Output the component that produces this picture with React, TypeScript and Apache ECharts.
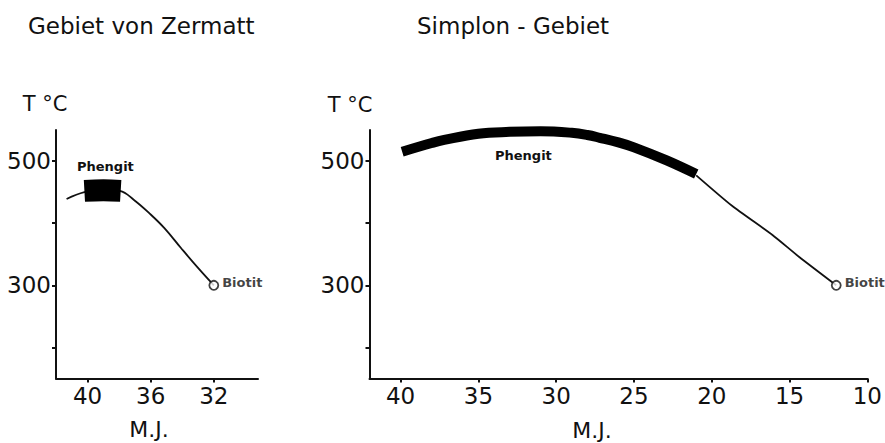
import React, { useEffect, useRef } from "react";
import * as echarts from "echarts";

// ---- data ----
const zermattCurve: [number, number][] = [
  [41.33, 439], [40.2, 450], [39, 454], [37.95, 452], [37.04, 437],
  [36.0, 414], [35.13, 392], [34.08, 360], [33.0, 328], [32, 300],
];
const zermattPhengit: [number, number][] = [[40.2, 452], [39, 453], [37.9, 452]];
const zermattBiotit: [number, number][] = [[32, 300]];

const simplonPhengit: [number, number][] = [
  [39.9, 515], [38, 529], [37.2, 534], [35, 544], [33, 547], [31, 548],
  [29, 545.5], [28, 542], [27.2, 537.5], [26, 530], [25, 522], [22.9, 501], [21, 479],
];
const simplonTail: [number, number][] = [
  [21, 477], [18.7, 428], [16.1, 381], [14.4, 346], [12, 300],
];
const simplonBiotit: [number, number][] = [[12, 300]];

const zermattXTicks = [40, 36, 32];
const simplonXTicks = [40, 35, 30, 25, 20, 15, 10];
const yTicks = [200, 300, 400, 500];
const yLabels = [300, 500];

const FONT = '"DejaVu Sans", sans-serif';
const INK = "#111";

function xAxisCfg(grid: number, min: number, max: number, ticks: number[]) {
  return {
    type: "value",
    gridIndex: grid,
    inverse: true,
    min,
    max,
    axisLine: { show: true, lineStyle: { color: INK, width: 2 } },
    axisTick: { show: true, customValues: ticks, length: 4, lineStyle: { color: INK, width: 2 } },
    axisLabel: { customValues: ticks, color: INK, fontFamily: FONT, fontSize: 23, margin: 6 },
    splitLine: { show: false },
  };
}

function yAxisCfg(grid: number) {
  return {
    type: "value",
    gridIndex: grid,
    min: 150,
    max: 550,
    axisLine: { show: true, lineStyle: { color: INK, width: 2 } },
    axisTick: { show: true, customValues: yTicks, length: 4, lineStyle: { color: INK, width: 2 } },
    axisLabel: { customValues: yLabels, color: INK, fontFamily: FONT, fontSize: 23, margin: 5 },
    splitLine: { show: false },
  };
}

function txt(text: string, x: number, y: number, size: number, align = "left", weight = "normal") {
  return {
    type: "text",
    x,
    y,
    silent: true,
    style: {
      text,
      fill: INK,
      fontFamily: FONT,
      fontSize: size,
      fontWeight: weight,
      align,
      verticalAlign: "middle",
    },
  };
}

export default function App() {
  const ref = useRef<HTMLDivElement>(null);
  useEffect(() => {
    if (!ref.current) return;
    const chart = echarts.init(ref.current, null, { renderer: "svg" });
    const biotitLabel = {
      show: true,
      position: "right",
      distance: 3,
      offset: [0, -3],
      formatter: "Biotit",
      color: INK,
      fontFamily: FONT,
      fontWeight: "bold",
      fontSize: 13,
    };
    chart.setOption({
      animation: false,
      backgroundColor: "#fff",
      grid: [
        { left: 56, top: 130, width: 202, height: 248.5 },
        { left: 369.5, top: 130, width: 500, height: 248.5 },
      ],
      xAxis: [xAxisCfg(0, 29.2, 42, zermattXTicks), xAxisCfg(1, 10, 42, simplonXTicks)],
      yAxis: [yAxisCfg(0), yAxisCfg(1)],
      series: [
        {
          type: "line", xAxisIndex: 0, yAxisIndex: 0, data: zermattCurve,
          showSymbol: false, smooth: 0.4, lineStyle: { color: INK, width: 1.8 }, z: 2,
        },
        {
          type: "line", xAxisIndex: 0, yAxisIndex: 0, data: zermattPhengit,
          showSymbol: false, smooth: 0.4, lineStyle: { color: "#000", width: 22, cap: "butt" }, z: 3,
        },
        {
          type: "scatter", xAxisIndex: 0, yAxisIndex: 0, data: zermattBiotit,
          symbol: "circle", symbolSize: 9,
          itemStyle: { color: "#fff", borderColor: INK, borderWidth: 1.8 },
          label: biotitLabel, z: 4,
        },
        {
          type: "line", xAxisIndex: 1, yAxisIndex: 1, data: simplonPhengit,
          showSymbol: false, smooth: 0.4, lineStyle: { color: "#000", width: 10, cap: "butt" }, z: 3,
        },
        {
          type: "line", xAxisIndex: 1, yAxisIndex: 1, data: simplonTail,
          showSymbol: false, smooth: 0.2, lineStyle: { color: INK, width: 1.8 }, z: 2,
        },
        {
          type: "scatter", xAxisIndex: 1, yAxisIndex: 1, data: simplonBiotit,
          symbol: "circle", symbolSize: 9,
          itemStyle: { color: "#fff", borderColor: INK, borderWidth: 1.8 },
          label: biotitLabel, z: 4,
        },
      ],
      graphic: [
        txt("Gebiet von Zermatt", 28, 26, 23),
        txt("Simplon - Gebiet", 417, 26, 23),
        txt("T °C", 45, 104, 21, "center"),
        txt("T °C", 350, 105, 21, "center"),
        txt("M.J.", 149, 429, 22, "center"),
        txt("M.J.", 592, 430, 22, "center"),
        txt("Phengit", 77, 166, 13, "left", "bold"),
        txt("Phengit", 495, 155, 13, "left", "bold"),
      ],
    });
    return () => chart.dispose();
  }, []);
  return (
    <div
      ref={ref}
      style={{ position: "fixed", left: 0, top: 0, width: 885, height: 443, background: "#fff" }}
    />
  );
}
